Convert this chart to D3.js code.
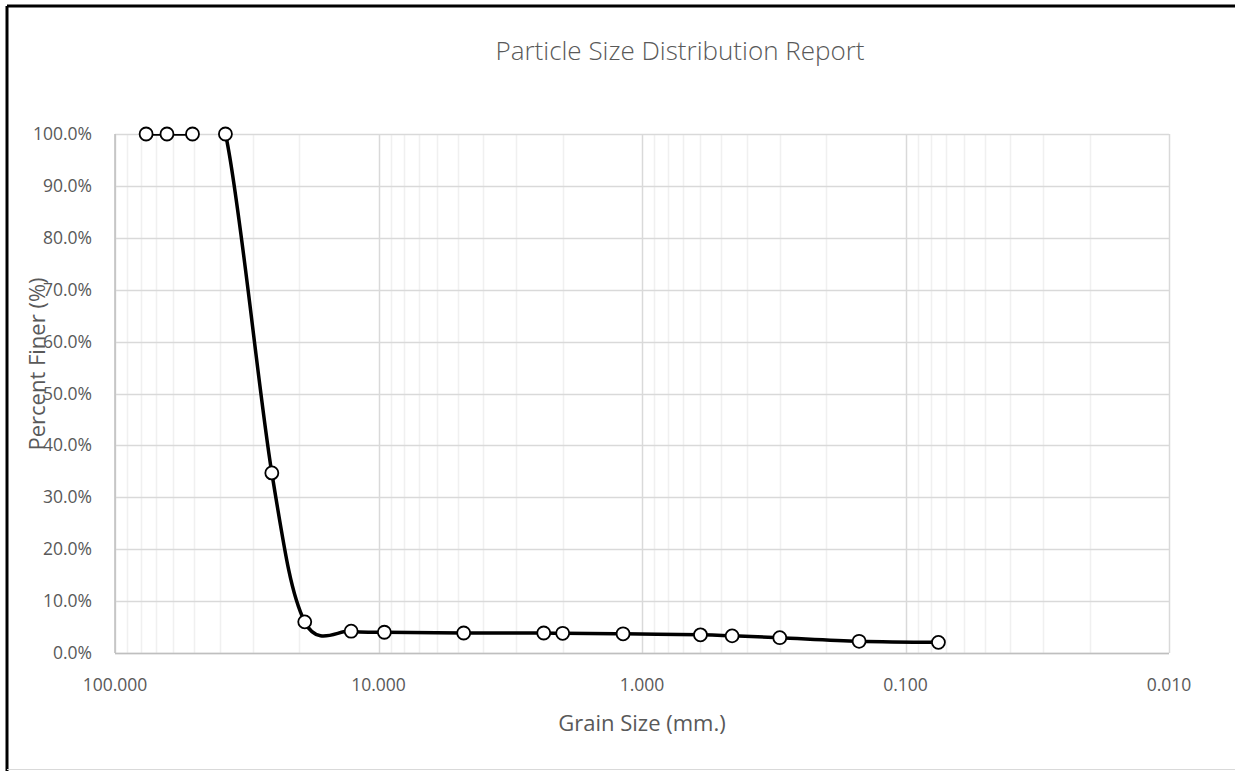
<!DOCTYPE html>
<html>
<head>
<meta charset="utf-8">
<script src="https://cdn.jsdelivr.net/npm/d3@7"></script>
<style>
  body { margin: 0; background: #fff; }
  text { font-family: "Open Sans", "Noto Sans", sans-serif; fill: #595959; }
</style>
</head>
<body>
<svg width="1235" height="771"></svg>
<script>
// sieve sizes (mm) and percent finer
const grainSize = [76.2, 63.5, 50.8, 38.1, 25.4, 19.05, 12.7, 9.5, 4.75, 2.36, 2.0, 1.18, 0.6, 0.455, 0.3, 0.15, 0.075];
const percentFiner = [100, 100, 100, 100, 34.7, 6.0, 4.2, 4.0, 3.85, 3.85, 3.8, 3.7, 3.5, 3.3, 2.95, 2.25, 2.05];
const xTicks = [100, 10, 1, 0.1, 0.01];
const yTicks = [0, 10, 20, 30, 40, 50, 60, 70, 80, 90, 100];

const svg = d3.select("svg");
const margin = { left: 115, right: 1169, top: 134, bottom: 653 };

// chart frame
svg.append("line").attr("x1", 7).attr("x2", 1235).attr("y1", 6).attr("y2", 6)
  .attr("stroke", "#000").attr("stroke-width", 3);
svg.append("line").attr("x1", 7).attr("x2", 7).attr("y1", 6).attr("y2", 771)
  .attr("stroke", "#000").attr("stroke-width", 3);
svg.append("line").attr("x1", 7).attr("x2", 1235).attr("y1", 769.5).attr("y2", 769.5)
  .attr("stroke", "#d9d9d9").attr("stroke-width", 1);

const x = d3.scaleLog().domain([100, 0.01]).range([margin.left, margin.right]);
const y = d3.scaleLinear().domain([0, 100]).range([margin.bottom, margin.top]);

// minor vertical grid
const minor = [];
[10, 1, 0.1, 0.01].forEach(base => {
  for (let k = 2; k <= 9; k++) minor.push(base * k);
});
svg.append("g").selectAll("line")
  .data(minor)
  .enter().append("line")
    .attr("x1", d => Math.round(x(d)) + 0.5).attr("x2", d => Math.round(x(d)) + 0.5)
    .attr("y1", margin.top).attr("y2", margin.bottom)
    .attr("stroke", "#f0f0f0").attr("stroke-width", 1.5);

// major grid
svg.append("g").selectAll("line")
  .data(xTicks)
  .enter().append("line")
    .attr("x1", d => Math.round(x(d)) + 0.5).attr("x2", d => Math.round(x(d)) + 0.5)
    .attr("y1", margin.top).attr("y2", margin.bottom)
    .attr("stroke", "#d9d9d9").attr("stroke-width", 1.5);
svg.append("g").selectAll("line")
  .data(yTicks)
  .enter().append("line")
    .attr("x1", margin.left).attr("x2", margin.right)
    .attr("y1", d => Math.round(y(d)) + 0.5).attr("y2", d => Math.round(y(d)) + 0.5)
    .attr("stroke", "#d9d9d9").attr("stroke-width", 1.5);

// axis lines
svg.append("line").attr("x1", margin.left).attr("x2", margin.left)
  .attr("y1", margin.top).attr("y2", margin.bottom)
  .attr("stroke", "#bfbfbf").attr("stroke-width", 1.5);
svg.append("line").attr("x1", margin.left).attr("x2", margin.right)
  .attr("y1", margin.bottom + 0.5).attr("y2", margin.bottom + 0.5)
  .attr("stroke", "#bfbfbf").attr("stroke-width", 1.5);

// tick labels
svg.append("g").selectAll("text")
  .data(xTicks)
  .enter().append("text")
    .attr("x", d => x(d)).attr("y", 691)
    .attr("text-anchor", "middle")
    .style("font-size", "17.5px")
    .text(d => d.toFixed(3));
svg.append("g").selectAll("text")
  .data(yTicks)
  .enter().append("text")
    .attr("x", 92).attr("y", d => y(d) + 6)
    .attr("text-anchor", "end")
    .style("font-size", "17.5px")
    .text(d => d.toFixed(1) + "%");

// titles
svg.append("text").attr("x", 680).attr("y", 60)
  .attr("text-anchor", "middle")
  .style("font-size", "26px").style("font-weight", "300")
  .text("Particle Size Distribution Report");
svg.append("text").attr("x", 642).attr("y", 731)
  .attr("text-anchor", "middle")
  .style("font-size", "22px")
  .text("Grain Size (mm.)");
svg.append("text")
  .attr("transform", "translate(45,364) rotate(-90)")
  .attr("text-anchor", "middle")
  .style("font-size", "22px")
  .text("Percent Finer (%)");

// data line, clipped to plot area
svg.append("clipPath").attr("id", "plot")
  .append("rect")
    .attr("x", margin.left).attr("y", margin.top)
    .attr("width", margin.right - margin.left).attr("height", margin.bottom - margin.top);

const pts = grainSize.map((g, i) => [g, percentFiner[i]]);
const line = d3.line()
  .x(d => x(d[0]))
  .y(d => y(d[1]))
  .curve(d3.curveCatmullRom.alpha(0));

svg.append("path")
  .datum(pts)
  .attr("clip-path", "url(#plot)")
  .attr("fill", "none")
  .attr("stroke", "#000")
  .attr("stroke-width", 3.5)
  .attr("d", line);

svg.append("g").selectAll("circle")
  .data(pts)
  .enter().append("circle")
    .attr("cx", d => x(d[0]))
    .attr("cy", d => y(d[1]))
    .attr("r", 6.5)
    .attr("fill", "#fff")
    .attr("stroke", "#000")
    .attr("stroke-width", 1.8);
</script>
</body>
</html>
